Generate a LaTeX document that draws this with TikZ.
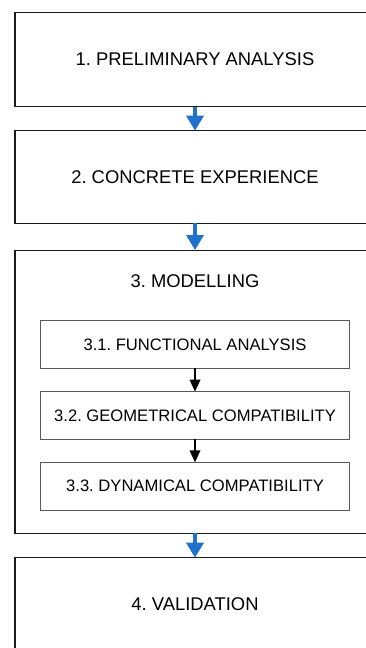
\documentclass[tikz,border=0pt]{standalone}
\usepackage{fontspec}
\setmainfont{Liberation Sans}
\usetikzlibrary{arrows.meta}
\definecolor{c2172cc}{RGB}{33,114,204}
\definecolor{c1a1a1a}{RGB}{26,26,26}
\definecolor{c595959}{RGB}{89,89,89}
\frenchspacing

\begin{document}
\begin{tikzpicture}[y=1pt, x=1pt, yscale=-1, inner sep=0pt, outer sep=0pt,
  stage/.style={draw=c1a1a1a, line width=1.1pt, minimum width=360pt,
    font=\fontsize{18.4}{22}\selectfont},
  substage/.style={draw=c595959, line width=1pt, minimum width=308.6pt,
    minimum height=47.6pt, font=\fontsize{16.6}{20}\selectfont},
  bluearrow/.style={draw=c2172cc, line width=3.4pt,
    -{Triangle[width=17pt,length=15pt]}},
  blackarrow/.style={draw=black, line width=1.8pt,
    -{Triangle[width=10.5pt,length=12pt]}}]

  \path[use as bounding box] (0,0) rectangle (366,648);
  \clip (0,0) rectangle (366,648);

  \path (195,59.5) node[stage, minimum height=94.7pt] (prelim)
    {1. PRELIMINARY ANALYSIS};
  \path (195,177) node[stage, minimum height=92.6pt] (concrete)
    {2. CONCRETE EXPERIENCE};
  \path (195,391.7) node[stage, minimum height=283.3pt] (modelling) {};
  \path (195,280.8) node[font=\fontsize{18.4}{22}\selectfont] (modtitle)
    {3. MODELLING};
  \path (195,344.5) node[substage] (functional) {3.1. FUNCTIONAL ANALYSIS};
  \path (195,415.5) node[substage] (geometrical)
    {3.2. GEOMETRICAL COMPATIBILITY};
  \path (195,486.2) node[substage] (dynamical)
    {3.3. DYNAMICAL COMPATIBILITY};
  \path (195,604.2) node[stage, minimum height=93pt] (validation)
    {4. VALIDATION};

  \draw[bluearrow] (prelim.south) -- (concrete.north);
  \draw[bluearrow] (concrete.south) -- (modelling.north);
  \draw[bluearrow] (modelling.south) -- (validation.north);
  \draw[blackarrow] (functional.south) -- (geometrical.north);
  \draw[blackarrow] (geometrical.south) -- (dynamical.north);

\end{tikzpicture}
\end{document}
